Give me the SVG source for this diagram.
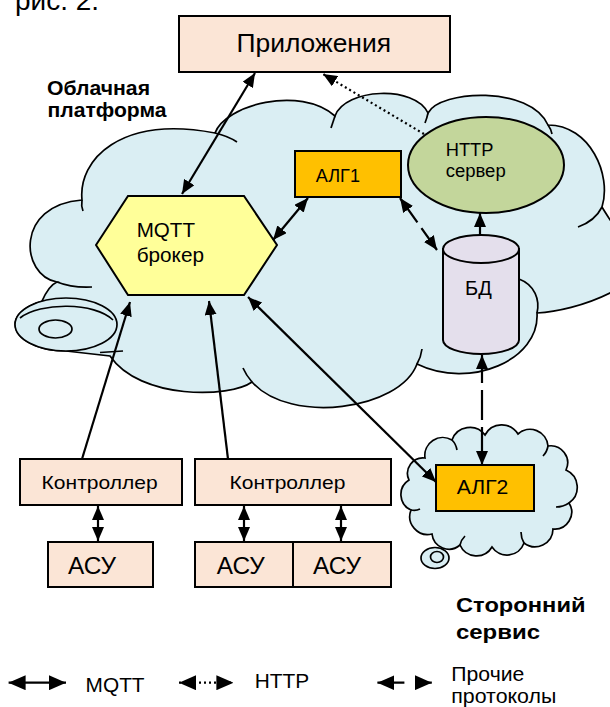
<svg xmlns="http://www.w3.org/2000/svg" width="610" height="707" viewBox="0 0 610 707">
<style>
text{font-family:"Liberation Sans",Arial,sans-serif;fill:#000}
.b{font-weight:bold}
.box{stroke:#000;stroke-width:2}
.peach{fill:#fbe5d6}
.alg{fill:#ffc000}
.cloud{fill:#daeef3;stroke:#000;stroke-width:1.7}
.inner{fill:none;stroke:#000;stroke-width:1.7}
.c{fill:none;stroke:#000;stroke-width:2.2}
.dot{stroke-dasharray:2 3}
</style>
<defs>
<marker id="ah" viewBox="0 0 14 12" refX="14" refY="6" markerWidth="14" markerHeight="12" markerUnits="userSpaceOnUse" orient="auto-start-reverse"><path d="M0,0 L14,6 L0,12 z" fill="#000"/></marker>
<marker id="ahL" viewBox="0 0 17 15" refX="17" refY="7.5" markerWidth="17" markerHeight="15" markerUnits="userSpaceOnUse" orient="auto-start-reverse"><path d="M0,0 L17,7.5 L0,15 z" fill="#000"/></marker>
</defs>
<rect width="610" height="707" fill="#fff"/>

<text x="15" y="9.5" font-size="28" textLength="84" lengthAdjust="spacingAndGlyphs">рис. 2.</text>

<g id="cloud-platform">
<path class="cloud" d="M 82 200 C 78 160, 120 115, 215 133 C 225 105, 300 85, 335 116 C 345 88, 415 85, 428 113 C 440 90, 530 85, 548 125 C 590 125, 612 175, 602 207 C 615 230, 665 290, 612 292 C 585 306, 555 312, 537 313 C 540 360, 470 390, 417 364 C 400 410, 290 425, 252 382 C 230 398, 140 400, 110 356 L 66 351 A 51 26.5 0 0 1 42 301.2 C 46 292, 50 285, 57 282 C 20 275, 15 205, 82 200 Z"/>
<path class="inner" d="M 82 200 Q 81 206 83 211"/>
<path class="inner" d="M 57 282 Q 72 288 92 287"/>
<path class="inner" d="M 215 133 Q 228 136 237 142"/>
<path class="inner" d="M 335 116 Q 333 122 331 128"/>
<path class="inner" d="M 428 113 Q 427 118 425 123"/>
<path class="inner" d="M 548 125 Q 551 129 552 134"/>
<path class="inner" d="M 602 207 Q 595 221 578 227"/>
<path class="inner" d="M 537 313 C 540 300, 535 285, 519 279"/>
<path class="inner" d="M 417 364 Q 421 357 422 349"/>
<path class="inner" d="M 252 382 Q 246 375 243 368"/>
<path class="inner" d="M 100 352.5 L 123 351"/>
<ellipse class="cloud" cx="66" cy="324.5" rx="51" ry="26.5"/>
<path class="inner" d="M 20 318 C 40 302, 95 302, 113 320"/>
<ellipse class="inner" cx="55.5" cy="329" rx="16.5" ry="9"/>
<text class="b" x="47" y="95" font-size="20" textLength="103" lengthAdjust="spacingAndGlyphs">Облачная</text>
<text class="b" x="47.5" y="116.7" font-size="20" textLength="119" lengthAdjust="spacingAndGlyphs">платформа</text>
</g>

<g id="cloud-service">
<path class="cloud" d="M 425 458 A 18 18 0 0 1 452 440 A 19 19 0 0 1 485 435 A 19 19 0 0 1 518 434 A 18 18 0 0 1 548 446 A 17 17 0 0 1 566 470 A 19 19 0 0 1 569 503 A 17 17 0 0 1 553 529 A 18 18 0 0 1 524 543 A 18 18 0 0 1 492 547 A 18 18 0 0 1 460 545 A 17 17 0 0 1 432 534 A 18 18 0 0 1 411 510 A 17 17 0 0 1 409 480 A 15.5 15.5 0 0 1 425 458 Z"/>
<path class="inner" d="M 452 440 q 4 4 5 10"/>
<path class="inner" d="M 548 446 q -1 6 -5 10"/>
<path class="inner" d="M 569 503 q -6 4 -13 4"/>
<path class="inner" d="M 524 543 q -3 -5 -3 -11"/>
<path class="inner" d="M 460 545 q 1 -5 5 -9"/>
<path class="inner" d="M 411 510 q 5 1 9 -1"/>
<ellipse class="cloud" cx="435" cy="558" rx="14" ry="10.5"/>
<ellipse class="inner" cx="437" cy="557" rx="6.5" ry="5.5"/>
<text class="b" x="456" y="612.3" font-size="20" textLength="129.5" lengthAdjust="spacingAndGlyphs">Сторонний</text>
<text class="b" x="456" y="639.3" font-size="20" textLength="84" lengthAdjust="spacingAndGlyphs">сервис</text>
</g>

<g id="apps">
<rect class="box peach" x="179" y="16" width="271" height="56"/>
<text x="236.5" y="51.7" font-size="26" textLength="154.5" lengthAdjust="spacingAndGlyphs">Приложения</text>
</g>

<g id="mqtt-broker">
<polygon class="box" fill="#ffff99" points="96,245 128,196 244,196 277,245 244,295 128,295"/>
<text x="136.7" y="237.3" font-size="20" textLength="58.3" lengthAdjust="spacingAndGlyphs">MQTT</text>
<text x="136.7" y="261.7" font-size="20" textLength="67.3" lengthAdjust="spacingAndGlyphs">брокер</text>
</g>

<g id="alg1">
<rect class="box alg" x="295" y="151" width="106" height="46"/>
<text x="315.7" y="181.7" font-size="18" textLength="44.3" lengthAdjust="spacingAndGlyphs">АЛГ1</text>
</g>

<g id="http-server">
<ellipse class="box" fill="#c3d69b" cx="486" cy="165" rx="78" ry="48"/>
<text x="445.7" y="156" font-size="18" textLength="47.7" lengthAdjust="spacingAndGlyphs">HTTP</text>
<text x="445.7" y="176.7" font-size="18" textLength="60" lengthAdjust="spacingAndGlyphs">сервер</text>
</g>

<g id="db">
<path class="box" fill="#e4dfec" d="M 443 249 L 443 340 A 38 14 0 0 0 519 340 L 519 249 Z"/>
<ellipse class="box" fill="#e4dfec" cx="481" cy="249" rx="38" ry="14"/>
<text x="465" y="295" font-size="20" textLength="26.7" lengthAdjust="spacingAndGlyphs">БД</text>
</g>

<g id="controller1">
<rect class="box peach" x="20" y="459" width="162" height="46"/>
<text x="41.6" y="489.3" font-size="19" textLength="116" lengthAdjust="spacingAndGlyphs">Контроллер</text>
</g>
<g id="controller2">
<rect class="box peach" x="195" y="459" width="196" height="46"/>
<text x="229.5" y="489.3" font-size="19" textLength="116" lengthAdjust="spacingAndGlyphs">Контроллер</text>
</g>
<g id="asu1">
<rect class="box peach" x="48" y="542" width="105" height="45"/>
<text x="68" y="574" font-size="23" textLength="48" lengthAdjust="spacingAndGlyphs">АСУ</text>
</g>
<g id="asu2">
<rect class="box peach" x="195" y="542" width="98" height="45"/>
<text x="216.7" y="574" font-size="23" textLength="48" lengthAdjust="spacingAndGlyphs">АСУ</text>
</g>
<g id="asu3">
<rect class="box peach" x="293" y="542" width="98" height="45"/>
<text x="313" y="574" font-size="23" textLength="48" lengthAdjust="spacingAndGlyphs">АСУ</text>
</g>

<g id="alg2">
<rect class="box alg" x="436" y="465" width="98" height="46"/>
<text x="456.7" y="494.3" font-size="21" textLength="51.7" lengthAdjust="spacingAndGlyphs">АЛГ2</text>
</g>

<g id="connectors">
<line class="c" x1="255" y1="73" x2="182" y2="194" marker-start="url(#ah)" marker-end="url(#ah)"/>
<line class="c dot" x1="424" y1="134" x2="323" y2="74" marker-end="url(#ah)"/>
<line class="c" x1="273" y1="240" x2="308" y2="198" marker-start="url(#ah)" marker-end="url(#ah)"/>
<line class="c" x1="400" y1="198" x2="437" y2="250" stroke-dasharray="30 7 60" marker-start="url(#ah)" marker-end="url(#ah)"/>
<line class="c" x1="480" y1="235" x2="480" y2="213" marker-end="url(#ah)"/>
<line class="c" x1="482" y1="355" x2="482" y2="465" stroke-dasharray="28 7 30 7 60" marker-start="url(#ah)" marker-end="url(#ah)"/>
<line class="c" x1="82" y1="459" x2="130" y2="302" marker-end="url(#ah)"/>
<line class="c" x1="228" y1="459" x2="209" y2="301" marker-end="url(#ah)"/>
<line class="c" x1="248" y1="297" x2="436" y2="482" marker-start="url(#ah)" marker-end="url(#ah)"/>
<line class="c" x1="98" y1="506" x2="98" y2="541" marker-start="url(#ah)" marker-end="url(#ah)"/>
<line class="c" x1="244" y1="506" x2="244" y2="541" marker-start="url(#ah)" marker-end="url(#ah)"/>
<line class="c" x1="341" y1="506" x2="341" y2="541" marker-start="url(#ah)" marker-end="url(#ah)"/>
</g>

<g id="legend">
<line class="c" x1="8.6" y1="682.7" x2="66" y2="682.7" marker-start="url(#ahL)" marker-end="url(#ahL)"/>
<text x="85.6" y="691.7" font-size="20" textLength="59" lengthAdjust="spacingAndGlyphs">MQTT</text>
<line class="c dot" x1="179" y1="682.7" x2="233.4" y2="682.7" marker-start="url(#ahL)" marker-end="url(#ahL)"/>
<text x="254.8" y="688.3" font-size="20" textLength="54.5" lengthAdjust="spacingAndGlyphs">HTTP</text>
<line class="c" x1="377.4" y1="682.7" x2="431.8" y2="682.7" stroke-dasharray="27 11 40" marker-start="url(#ahL)" marker-end="url(#ahL)"/>
<text x="451.3" y="680.7" font-size="20" textLength="73" lengthAdjust="spacingAndGlyphs">Прочие</text>
<text x="451.3" y="703" font-size="20" textLength="105" lengthAdjust="spacingAndGlyphs">протоколы</text>
</g>
</svg>
